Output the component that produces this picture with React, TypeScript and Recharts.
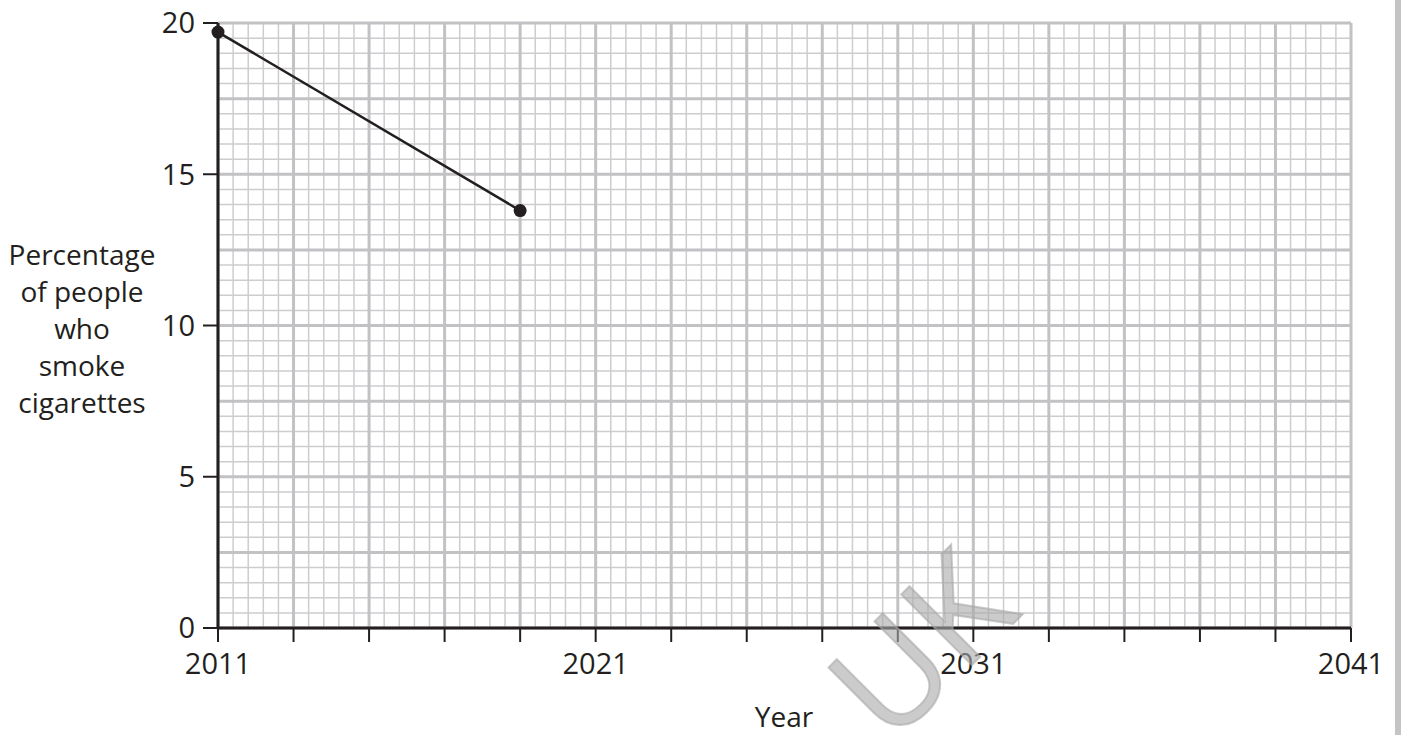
import React from 'react';
import { LineChart, Line, XAxis, YAxis, CartesianGrid } from 'recharts';

// values
const years = [2011, 2019];
const smokers = [19.7, 13.8];

const xTicks = [2011, 2013, 2015, 2017, 2019, 2021, 2023, 2025, 2027, 2029, 2031, 2033, 2035, 2037, 2039, 2041];
const xLabelled = [2011, 2021, 2031, 2041];
const yTicks = [0, 5, 10, 15, 20];

const data = years.map((year, i) => ({ year, pct: smokers[i] }));

// graph paper: small squares every 0.4 year / 0.5 %, bold lines every 2 years / 2.5 %
const minorX: number[] = [];
for (let i = 0; i <= 75; i++) minorX.push(2011 + i * 0.4);
const minorY: number[] = [];
for (let i = 0; i <= 40; i++) minorY.push(i * 0.5);
const majorX = xTicks;
const majorY: number[] = [];
for (let i = 0; i <= 8; i++) majorY.push(i * 2.5);

const W = 1401;
const H = 735;
const font = '"Open Sans", sans-serif';
const ink = '#231f20';

export default function App() {
  return (
    <div style={{ position: 'absolute', left: 0, top: 0, width: W, height: H, background: '#fff', overflow: 'hidden', fontFamily: font }}>
      <LineChart
        width={W}
        height={H}
        data={data}
        margin={{ top: 23, right: 50, bottom: 47, left: 138 }}
      >
        <CartesianGrid
          verticalValues={minorX}
          horizontalValues={minorY}
          stroke="#cdcdd0"
          strokeWidth={1.5}
        />
        <CartesianGrid
          verticalValues={majorX}
          horizontalValues={majorY}
          stroke="#c2c2c5"
          strokeWidth={3}
        />
        <XAxis
          dataKey="year"
          type="number"
          domain={[2011, 2041]}
          ticks={xTicks}
          interval={0}
          height={60}
          tickSize={14}
          tickMargin={11}
          tickFormatter={(v: number) => (xLabelled.includes(v) ? String(v) : '')}
          tick={{ fill: ink, fontSize: 29, fontFamily: font }}
          axisLine={{ stroke: ink, strokeWidth: 3 }}
          tickLine={{ stroke: ink, strokeWidth: 2 }}
        />
        <YAxis
          type="number"
          domain={[0, 20]}
          ticks={yTicks}
          interval={0}
          width={80}
          tickSize={15}
          tickMargin={8}
          tick={{ fill: ink, fontSize: 29, fontFamily: font }}
          axisLine={{ stroke: ink, strokeWidth: 3 }}
          tickLine={{ stroke: ink, strokeWidth: 2 }}
        />
        <Line
          dataKey="pct"
          type="linear"
          stroke={ink}
          strokeWidth={2.5}
          dot={{ r: 6.5, fill: ink, stroke: 'none' }}
          isAnimationActive={false}
        />
      </LineChart>

      <div
        style={{
          position: 'absolute',
          left: 0,
          top: 236,
          width: 164,
          textAlign: 'center',
          fontSize: 28,
          lineHeight: '37px',
          color: ink,
        }}
      >
        Percentage
        <br />
        of people
        <br />
        who
        <br />
        smoke
        <br />
        cigarettes
      </div>

      <div
        style={{
          position: 'absolute',
          left: 684,
          top: 698,
          width: 200,
          textAlign: 'center',
          fontSize: 28,
          lineHeight: '37px',
          color: ink,
        }}
      >
        Year
      </div>

      {/* faint watermark lying across the lower middle of the grid */}
      <svg width={W} height={H} style={{ position: 'absolute', left: 0, top: 0, pointerEvents: 'none' }}>
        <text
          x={918}
          y={642}
          textAnchor="middle"
          dominantBaseline="central"
          transform="rotate(-45 918 642)"
          fontFamily={font}
          fontSize={140}
          fill="#a8a8a8"
          fillOpacity={0.6}
          stroke="#a8a8a8"
          strokeOpacity={0.6}
          strokeWidth={2}
        >
          UK
        </text>
      </svg>

      <div style={{ position: 'absolute', left: 1395, top: 0, width: 6, height: H, background: '#c4c4c4' }} />
    </div>
  );
}
